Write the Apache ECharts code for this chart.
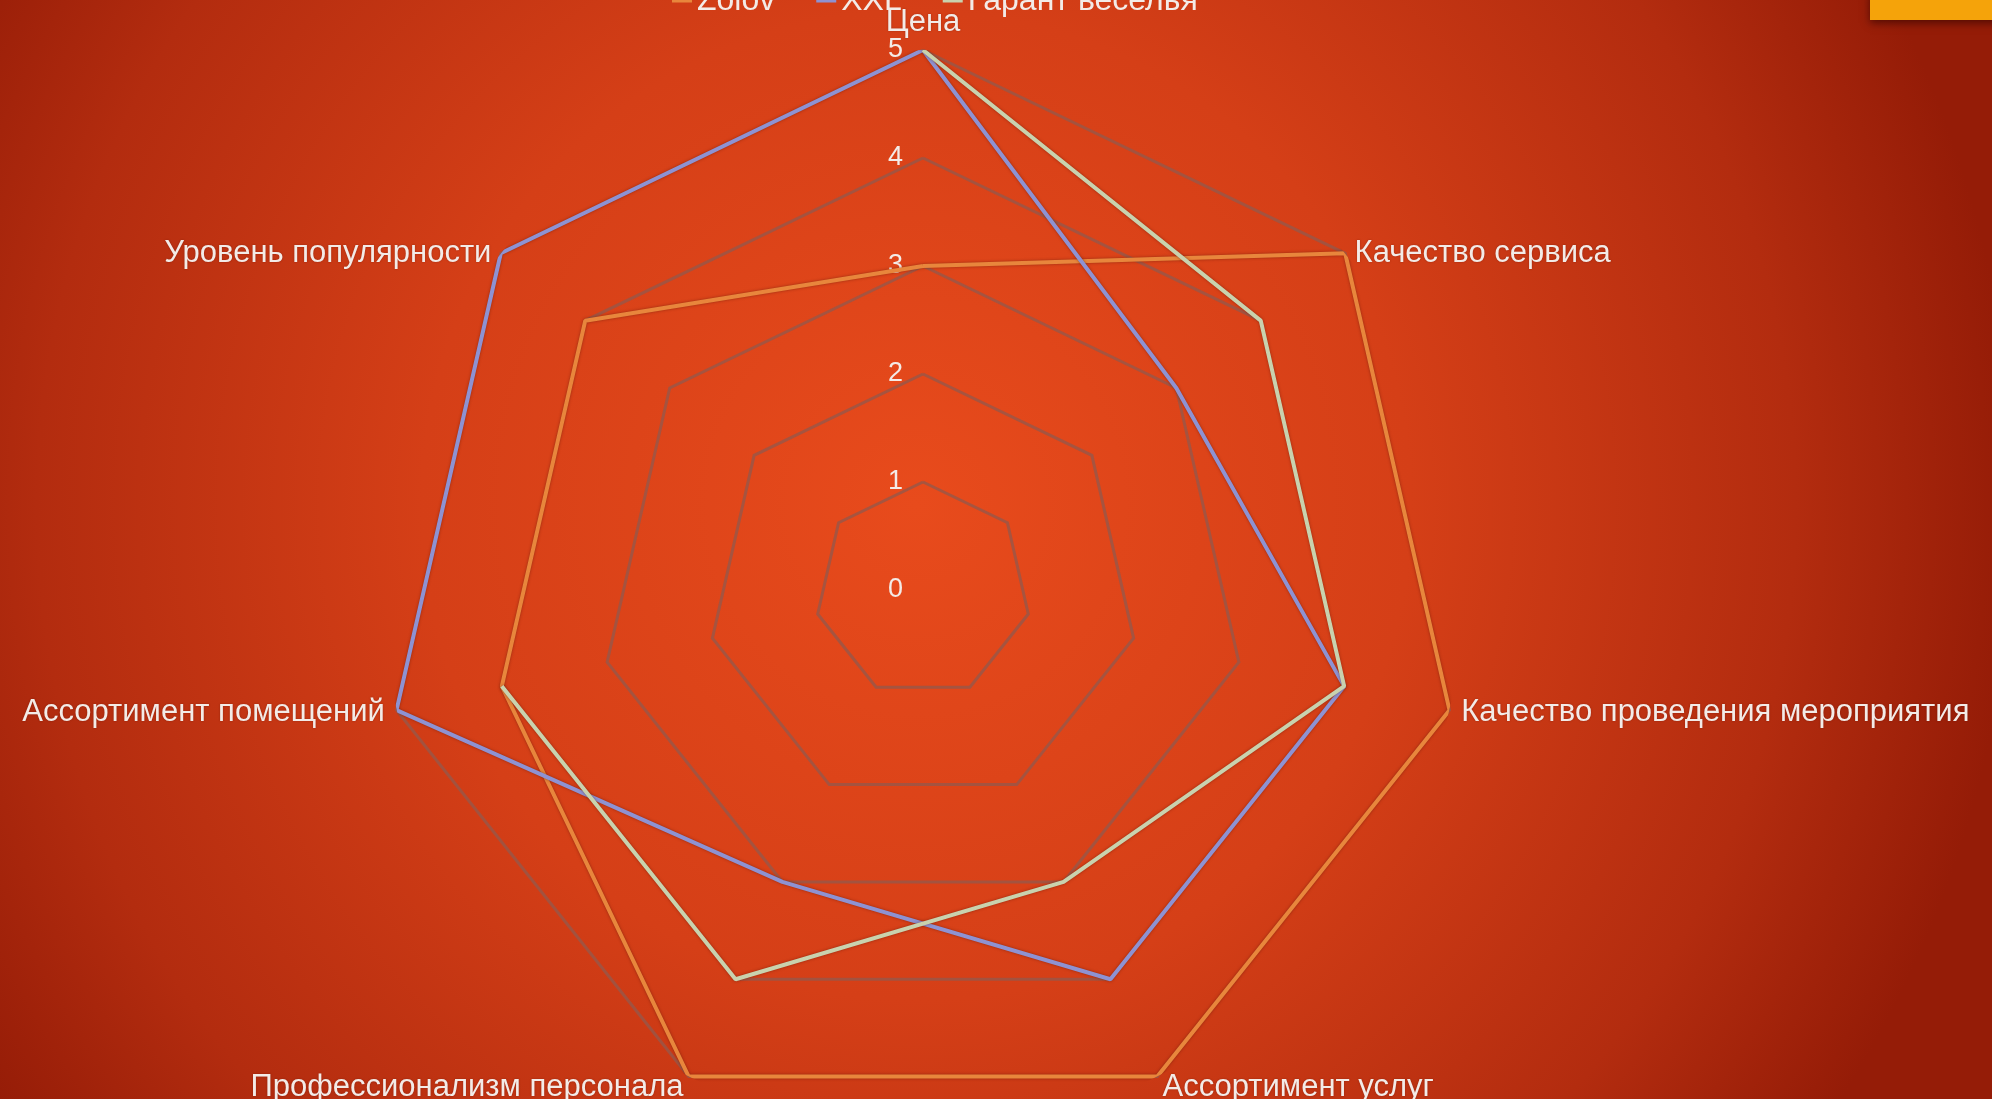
<!DOCTYPE html>
<html>
<head>
<meta charset="utf-8">
<script src="https://cdn.jsdelivr.net/npm/echarts@6/dist/echarts.min.js"></script>
<style>
  html, body { margin: 0; padding: 0; width: 1992px; height: 1099px; overflow: hidden; }
  #chart { width: 1992px; height: 1099px; }
</style>
</head>
<body>
<div id="chart"></div>
<script>
// ---- data ----
const categories = ['Цена', 'Качество сервиса', 'Качество проведения мероприятия', 'Ассортимент услуг', 'Профессионализм персонала', 'Ассортимент помещений', 'Уровень популярности'];
const seriesNames = ['Zolov', 'XXL', 'Гарант веселья'];
const zolovValues = [3, 5, 5, 5, 5, 4, 4];
const xxlValues = [5, 3, 4, 4, 3, 5, 5];
const garantValues = [5, 4, 4, 3, 4, 4, null];
const tickLabels = ['0', '1', '2', '3', '4', '5'];

// ---- style ----
const colors = ['#e8863c', '#8e92d2', '#c9d2ae'];
const textColor = '#f3ebe7';
const fontFamily = '"Liberation Sans", Arial, sans-serif';
const center = [923, 590];
const radius = 540;
const maxVal = 5;
const n = categories.length;

// radar goes counter-clockwise; reorder names so they read clockwise like the source
const radarOrder = [0].concat(categories.map((c, i) => i).slice(1).reverse());
const indicators = radarOrder.map(i => ({ name: categories[i], min: 0, max: maxVal }));
// names on the two upper side axes sit level with their vertex
const upperSideNames = [categories[1], categories[n - 1]];

function toPolar(values) {
  const pts = values.map((v, i) => [v == null ? '-' : v, i]);
  pts.push([values[0] == null ? '-' : values[0], n]);
  return pts;
}

const allValues = [zolovValues, xxlValues, garantValues];
const nameFont = { color: textColor, fontSize: 31, fontFamily: fontFamily };

const chart = echarts.init(document.getElementById('chart'), null, { renderer: 'canvas' });
chart.setOption({
  backgroundColor: {
    type: 'radial', x: 0.46, y: 0.46, r: 1.0,
    colorStops: [
      { offset: 0, color: '#e84b1c' },
      { offset: 0.45, color: '#d53f17' },
      { offset: 0.8, color: '#b32c0f' },
      { offset: 1, color: '#951c07' }
    ]
  },
  animation: false,
  color: colors,
  legend: {
    data: seriesNames,
    left: 667,
    top: -20,
    icon: 'rect',
    itemWidth: 20,
    itemHeight: 3,
    itemGap: 41,
    textStyle: { color: textColor, fontSize: 32, fontFamily: fontFamily }
  },
  radar: {
    center: center,
    radius: radius,
    startAngle: 90,
    shape: 'polygon',
    splitNumber: 5,
    indicator: indicators,
    nameGap: 12,
    axisName: Object.assign({
      textShadowColor: 'rgba(60,0,0,0.35)', textShadowBlur: 2,
      formatter: function (name) {
        return upperSideNames.indexOf(name) >= 0 ? '{low|' + name + '}' : '{std|' + name + '}';
      },
      rich: {
        low: Object.assign({ padding: [16, 0, 0, 0] }, nameFont),
        std: Object.assign({}, nameFont)
      }
    }, nameFont),
    axisLine: { show: false },
    axisTick: { show: false },
    axisLabel: { show: false },
    splitArea: { show: false },
    splitLine: { lineStyle: { color: 'rgba(150,88,74,0.8)', width: 3 } }
  },
  polar: { center: center, radius: radius },
  angleAxis: {
    type: 'value', min: 0, max: n, startAngle: 90, clockwise: true,
    axisLine: { show: false }, axisTick: { show: false }, axisLabel: { show: false }, splitLine: { show: false }
  },
  radiusAxis: {
    type: 'value', min: 0, max: maxVal, interval: 1,
    axisLine: { show: false }, axisTick: { show: false }, splitLine: { show: false },
    axisLabel: { show: true, color: textColor, fontSize: 27, fontFamily: fontFamily, margin: 20,
      formatter: v => tickLabels[v] }
  },
  series: seriesNames.map((name, k) => ({
    name: name,
    type: 'line',
    coordinateSystem: 'polar',
    data: toPolar(allValues[k]),
    showSymbol: false,
    connectNulls: false,
    lineStyle: { width: 4, color: colors[k], shadowColor: 'rgba(80,20,10,0.5)', shadowBlur: 3 },
    itemStyle: { color: colors[k] },
    z: 3 + k
  })),
  graphic: [{
    type: 'rect',
    shape: { x: 1870, y: -10, width: 140, height: 30 },
    style: { fill: '#f5a30a', shadowColor: 'rgba(40,0,0,0.6)', shadowBlur: 8, shadowOffsetY: 3 },
    z: 100
  }]
});
</script>
</body>
</html>
